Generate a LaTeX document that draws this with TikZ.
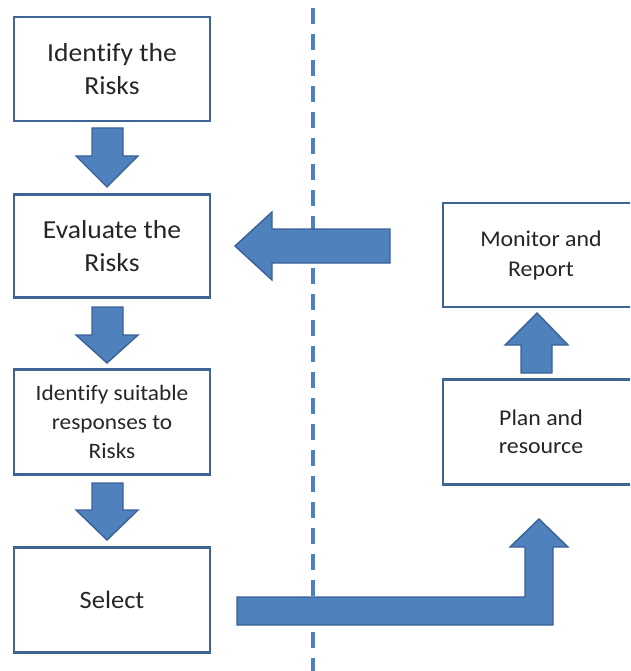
\documentclass[tikz,border=0pt]{standalone}
\usepackage{fontspec}
\setmainfont[Ligatures=NoCommon,FakeStretch=1.06]{Carlito}
\usetikzlibrary{calc}
\definecolor{arrowfill}{HTML}{4F81BD}
\definecolor{arrowline}{HTML}{3A6196}
\definecolor{boxline}{HTML}{3F6596}
\begin{document}
\begin{tikzpicture}[x=1pt,y=-1pt,
  stepbox/.style={draw=boxline,line width=2.6pt,fill=white,minimum width=196pt,inner sep=0pt,align=center,text=black!85},
  blockarrow/.style={fill=arrowfill,draw=arrowline,line width=1.4pt,line join=miter},
  divider/.style={draw=arrowfill,line width=4.5pt,dash pattern=on 16pt off 10pt}]
\useasboundingbox (0,0) rectangle (630,671);
\clip (0,0) rectangle (630,671);
% divider
\coordinate (dtop) at (313,8);
\coordinate (dbot) at (313,671);
\draw[divider] (dtop) -- (dbot);
% boxes
\node[stepbox,minimum height=104pt,font=\fontsize{26}{33}\selectfont] (identify) at (112,69) {Identify the\\Risks};
\node[stepbox,minimum height=103pt,font=\fontsize{26}{33}\selectfont] (evaluate) at (112,246) {Evaluate the\\Risks};
\node[stepbox,minimum height=105pt,font=\fontsize{22}{29}\selectfont] (responses) at (112,422) {Identify suitable\\responses to\\Risks};
\node[stepbox,minimum height=105pt,font=\fontsize{25}{29}\selectfont] (select) at (112,600) {Select};
\node[stepbox,minimum height=104pt,font=\fontsize{22.5}{30}\selectfont] (monitor) at (541,255) {Monitor and\\Report};
\node[stepbox,minimum height=105pt,font=\fontsize{22.5}{28}\selectfont] (plan) at (541,432) {Plan and\\resource};
% down arrows
\draw[blockarrow] (92,128) -- (123,128) -- (123,156) -- (138,156) -- (107,187) -- (76,156) -- (92,156) -- cycle;
\draw[blockarrow] (92,307) -- (123,307) -- (123,335) -- (138,335) -- (107,363) -- (76,335) -- (92,335) -- cycle;
\draw[blockarrow] (92,483) -- (123,483) -- (123,510) -- (138,510) -- (107,540) -- (76,510) -- (92,510) -- cycle;
% up arrow plan -> monitor
\draw[blockarrow] (521,373) -- (552,373) -- (552,345) -- (568,345) -- (537,313) -- (505,345) -- (521,345) -- cycle;
% left arrow to evaluate
\draw[blockarrow] (390,229) -- (272,229) -- (272,212) -- (235,246) -- (272,280) -- (272,263) -- (390,263) -- cycle;
% L arrow select -> plan
\draw[blockarrow] (237,597) -- (525,597) -- (525,547) -- (510,547) -- (539,519) -- (568,547) -- (553,547) -- (553,625) -- (237,625) -- cycle;
\end{tikzpicture}
\end{document}
